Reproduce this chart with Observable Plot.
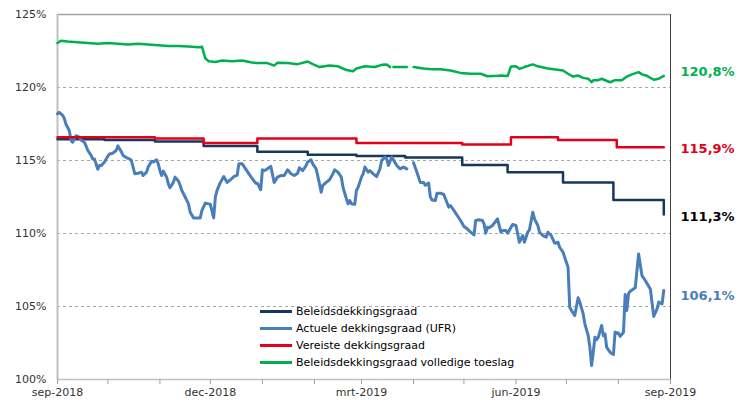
<!DOCTYPE html>
<html>
<head>
<meta charset="utf-8">
<script src="https://cdn.jsdelivr.net/npm/d3@7"></script>
<script src="https://cdn.jsdelivr.net/npm/@observablehq/plot@0.6"></script>
<style>
  body { margin: 0; background: #fff; }
  #wrap { position: relative; width: 750px; height: 401px; font-family: "DejaVu Sans", Verdana, sans-serif; }
  #legend { position: absolute; left: 260px; top: 303px; font-size: 11px; color: #000; }
  #legend .row { height: 17px; display: flex; align-items: center; white-space: nowrap; }
  #legend .sw { width: 32px; height: 3px; margin-right: 4px; }
</style>
</head>
<body>
<div id="wrap"><div id="legend"></div></div>
<script>
// ---- data (day offsets from 2018-09-01, values in %) ----
const startDate = "2018-09-01";
const endDate = "2019-09-01";

const seriesNames = ["Beleidsdekkingsgraad", "Actuele dekkingsgraad (UFR)", "Vereiste dekkingsgraad", "Beleidsdekkingsgraad volledige toeslag"];
const seriesColors = ["#17375e", "#4a7ebb", "#e2001a", "#00b050"];

const navyDays = [0, 28, 58, 87, 119, 149, 178, 207, 241, 268, 301, 331, 361];
const navyVals = [116.45, 116.4, 116.3, 116.0, 115.6, 115.4, 115.3, 115.2, 114.7, 114.2, 113.5, 112.3, 111.3];

const redDays = [0, 58, 87, 119, 178, 241, 270, 298, 333, 361];
const redVals = [116.6, 116.5, 116.2, 116.5, 116.2, 116.1, 116.6, 116.4, 115.9, 115.9];

const greenDays = [0, 2, 6, 12, 18, 24, 30, 36, 42, 48, 54, 60, 66, 72, 78, 84, 86, 88, 90, 94, 98, 104, 110, 115, 119, 125, 129, 131, 137, 143, 149, 152, 156, 162, 167, 172, 176, 178, 183, 189, 193, 196, 198, 199, 200, 208, 210, 212, 218, 223, 228, 234, 240, 246, 252, 256, 262, 264, 268, 270, 273, 275, 278, 283, 286, 292, 301, 304, 307, 310, 313, 316, 318, 319, 322, 324, 329, 332, 336, 339, 342, 346, 348, 351, 355, 358, 361];
const greenVals = [123.05, 123.2, 123.15, 123.1, 123.05, 123.0, 123.05, 123.0, 122.95, 123.0, 122.95, 122.9, 122.85, 122.85, 122.8, 122.75, 122.8, 122.0, 121.8, 121.75, 121.85, 121.8, 121.85, 121.73, 121.67, 121.67, 121.5, 121.7, 121.68, 121.6, 121.78, 121.6, 121.4, 121.5, 121.45, 121.2, 121.12, 121.3, 121.45, 121.4, 121.55, 121.58, 121.4, null, 121.4, 121.4, null, 121.4, 121.3, 121.25, 121.25, 121.16, 121.0, 120.94, 120.94, 120.77, 120.8, 120.82, 120.78, 121.44, 121.45, 121.28, 121.4, 121.58, 121.45, 121.3, 121.16, 120.94, 120.75, 120.82, 120.66, 120.6, 120.36, 120.5, 120.5, 120.6, 120.36, 120.5, 120.5, 120.75, 120.9, 121.05, 120.9, 120.8, 120.53, 120.6, 120.8];

const blueDays = [0, 1, 3, 4, 5, 7, 8, 9, 10, 11, 13, 14, 16, 17, 18, 20, 21, 22, 24, 25, 26, 28, 30, 31, 33, 35, 36, 38, 39, 41, 43, 44, 46, 48, 50, 51, 53, 54, 56, 57, 59, 60, 61, 62, 63, 65, 66, 67, 69, 70, 72, 73, 74, 76, 78, 79, 81, 83, 85, 86, 88, 90, 91, 93, 94, 95, 97, 99, 101, 103, 105, 107, 108, 110, 112, 114, 116, 118, 119, 121, 122, 123, 125, 127, 129, 131, 133, 135, 137, 139, 141, 143, 144, 146, 148, 149, 151, 152, 154, 156, 157, 158, 160, 162, 164, 165, 167, 169, 170, 172, 173, 174, 175, 177, 178, 179, 181, 182, 183, 185, 186, 188, 190, 192, 193, 195, 196, 197, 199, 200, 202, 204, 206, 208, 210, 212, 214, 216, 218, 219, 221, 222, 223, 225, 226, 228, 230, 231, 233, 234, 236, 238, 240, 242, 244, 246, 248, 249, 251, 253, 254, 255, 256, 257, 259, 262, 264, 265, 267, 268, 271, 273, 274, 275, 277, 278, 280, 281, 283, 284, 286, 287, 289, 291, 292, 294, 296, 298, 299, 301, 303, 304, 305, 306, 308, 310, 311, 313, 314, 316, 317, 318, 319, 320, 321, 322, 324, 325, 326, 327, 329, 331, 332, 334, 335, 337, 338, 339, 340, 341, 344, 346, 348, 350, 353, 355, 357, 358, 360, 361];
const blueVals = [118.2, 118.3, 118.1, 117.9, 117.5, 117.05, 116.4, 116.25, 116.5, 116.7, 116.6, 116.4, 116.25, 116.0, 115.7, 115.35, 115.1, 115.1, 114.4, 114.65, 114.65, 114.9, 115.3, 115.45, 115.5, 115.7, 116.0, 115.6, 115.35, 115.2, 115.1, 115.0, 114.1, 114.13, 114.2, 113.97, 114.2, 114.55, 114.95, 114.9, 115.05, 114.77, 114.3, 113.97, 114.27, 113.86, 113.4, 113.13, 113.5, 113.86, 113.6, 113.3, 112.95, 112.5, 112.03, 111.46, 111.07, 111.07, 111.07, 111.58, 112.08, 112.03, 112.0, 111.07, 112.5, 112.95, 113.5, 113.9, 113.5, 113.68, 113.9, 114.0, 114.77, 114.77, 114.43, 114.09, 113.75, 113.45, 113.45, 113.0, 114.36, 114.3, 114.43, 114.6, 113.5, 113.86, 113.97, 113.97, 114.36, 114.09, 113.97, 114.13, 114.5, 114.3, 114.66, 114.9, 115.05, 114.77, 114.43, 113.4, 112.83, 113.3, 113.5, 113.68, 114.09, 114.36, 114.2, 113.86, 113.17, 112.38, 112.03, 112.26, 112.03, 112.0, 112.95, 113.17, 113.86, 114.09, 114.55, 114.2, 114.3, 114.09, 113.9, 114.43, 115.0, 115.23, 115.12, 114.66, 115.23, 115.05, 114.66, 114.43, 114.55, 114.43, null, 114.85, 114.2, 113.5, 113.5, 113.3, 113.45, 112.5, 112.3, 112.26, 112.76, 112.76, 112.67, 112.38, 111.8, 111.92, 111.58, 111.23, 110.89, 110.48, 110.32, 110.09, 109.9, 110.89, 110.94, 110.89, 110.66, 110.02, 110.43, 110.39, 110.55, 111.0, 110.09, 110.2, 110.2, 110.02, 110.62, 110.55, 109.98, 109.4, 109.86, 109.4, 110.09, 110.25, 111.46, 111.0, 110.55, 110.09, 109.86, 109.75, 110.09, 109.86, 109.34, 109.4, 109.06, 108.72, 108.03, 107.69, 104.95, 104.73, 104.38, 105.6, 105.3, 104.5, 103.82, 103.0, 102.2, 100.96, 101.87, 102.9, 102.72, 102.9, 103.7, 103.0, 103.13, 102.2, 101.87, 101.71, 103.24, 103.17, 102.95, 103.24, 105.82, 104.73, 105.87, 106.05, 106.28, 108.6, 107.12, 106.78, 106.2, 104.32, 104.84, 105.3, 105.18, 106.1];

const endLabels = ["120,8%", "115,9%", "111,3%", "106,1%"];
const endLabelColors = ["#00b050", "#e2001a", "#000000", "#4a7ebb"];

const yTicks = [100, 105, 110, 115, 120, 125];
const gridValues = [105, 110, 115, 120];
const monthTicks = ["2018-09-01","2018-10-01","2018-11-01","2018-12-01","2019-01-01","2019-02-01","2019-03-01","2019-04-01","2019-05-01","2019-06-01","2019-07-01","2019-08-01","2019-09-01"];
const monthLabels = ["sep-2018","","","dec-2018","","","mrt-2019","","","jun-2019","","","sep-2019"];

// ---- build ----
const base = new Date(startDate + "T00:00:00Z");
const toDate = d => new Date(base.getTime() + d * 864e5);
const mk = (days, vals) => days.map((d, i) => ({date: toDate(d), v: vals[i] == null ? NaN : vals[i]}));
const navy = mk(navyDays, navyVals);
const red = mk(redDays, redVals);
const green = mk(greenDays, greenVals);
const blue = mk(blueDays, blueVals);
const tickDates = monthTicks.map(s => new Date(s + "T00:00:00Z"));
const labelOf = new Map(tickDates.map((d, i) => [+d, monthLabels[i]]));
const xDomain = [new Date(startDate + "T00:00:00Z"), new Date(endDate + "T00:00:00Z")];
const endValues = endLabels.map(s => parseFloat(s.replace(",", ".").replace("%", "")));

const labelMark = (i, dy) => Plot.text([endValues[i]], {
  y: d => d, frameAnchor: "right", dx: 10, dy, text: () => endLabels[i],
  textAnchor: "start", fill: endLabelColors[i], fontWeight: "bold", fontSize: 13
});

const chart = Plot.plot({
  width: 750,
  height: 401,
  marginLeft: 57,
  marginRight: 80,
  marginTop: 14,
  marginBottom: 22,
  style: {fontFamily: "DejaVu Sans, Verdana, sans-serif", fontSize: "11px", background: "#fff", color: "#333"},
  x: {type: "utc", domain: xDomain},
  y: {domain: [100, 125]},
  marks: [
    Plot.ruleY(gridValues, {stroke: "#a6a6a6", strokeDasharray: "3,3", strokeWidth: 1}),
    Plot.ruleY([125], {stroke: "#a0a0a0", strokeWidth: 1.5}),
    Plot.ruleX([xDomain[1]], {stroke: "#404040", strokeWidth: 1}),
    Plot.ruleX([xDomain[0]], {stroke: "#c0c0c0", strokeWidth: 2}),
    Plot.ruleY([100], {stroke: "#c0c0c0", strokeWidth: 1.5}),
    Plot.axisY({ticks: yTicks, tickFormat: d => d + "%", tickSize: 0, tickPadding: 11, label: null, fill: "#333", fontSize: 11}),
    Plot.axisX({ticks: tickDates, tickFormat: d => labelOf.get(+d) ?? "", tickSize: 5, tickPadding: 4, label: null, stroke: "#a0a0a0", fill: "#333", fontSize: 11}),
    Plot.line(navy, {x: "date", y: "v", curve: "step-after", stroke: seriesColors[0], strokeWidth: 2.5}),
    Plot.line(blue, {x: "date", y: "v", stroke: seriesColors[1], strokeWidth: 3, strokeLinejoin: "round"}),
    Plot.line(red, {x: "date", y: "v", curve: "step-after", stroke: seriesColors[2], strokeWidth: 2.5}),
    Plot.line(green, {x: "date", y: "v", stroke: seriesColors[3], strokeWidth: 2.5}),
    labelMark(0, -3.5),
    labelMark(1, 1),
    labelMark(2, 2),
    labelMark(3, 5)
  ]
});

const wrap = document.getElementById("wrap");
wrap.insertBefore(chart, wrap.firstChild);

const legend = document.getElementById("legend");
seriesNames.forEach((name, i) => {
  const row = document.createElement("div");
  row.className = "row";
  const sw = document.createElement("div");
  sw.className = "sw";
  sw.style.background = seriesColors[i];
  const t = document.createElement("span");
  t.textContent = name;
  row.appendChild(sw);
  row.appendChild(t);
  legend.appendChild(row);
});
</script>
</body>
</html>
